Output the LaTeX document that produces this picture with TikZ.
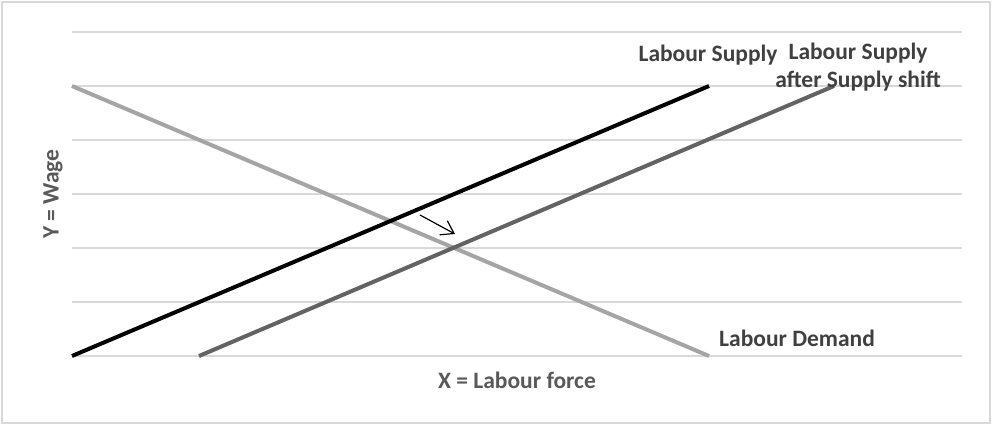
\documentclass[tikz,border=0pt]{standalone}
\usepackage{fontspec}
\setmainfont{Carlito}
\usetikzlibrary{arrows.meta}
\definecolor{gridc}{HTML}{D9D9D9}
\definecolor{demandc}{HTML}{A5A5A5}
\definecolor{shiftc}{HTML}{636363}
\definecolor{labelc}{HTML}{404040}
\definecolor{axisc}{HTML}{595959}
\tikzset{
  gridline/.style={draw=gridc, line width=1.8pt},
  series/.style={line width=4pt},
  lbl/.style={text=labelc, font=\fontsize{23.5}{28}\selectfont\bfseries, inner sep=0pt, align=center},
  axtitle/.style={text=axisc, font=\fontsize{23.5}{28}\selectfont\bfseries, inner sep=0pt},
}
\begin{document}
\begin{tikzpicture}[x=1pt,y=-1pt]
\useasboundingbox (0,0) rectangle (992,425);
\fill[white] (0,0) rectangle (992,425);
\draw[draw=gridc, line width=2pt] (2,2) rectangle (990,423);
\foreach \yy in {32,86,140,194,248,302,356} {
  \draw[gridline] (72,\yy) -- (962,\yy);
}
\coordinate (d1) at (72,86);
\coordinate (d2) at (709,356);
\coordinate (s1) at (72,356);
\coordinate (s2) at (709,86);
\coordinate (t1) at (199,356);
\coordinate (t2) at (834,86);
\coordinate (a1) at (420,215);
\coordinate (a2) at (455,234);
\draw[series, demandc] (d1) -- (d2);
\draw[series, black] (s1) -- (s2);
\draw[series, shiftc] (t1) -- (t2);
\draw[line width=1.2pt, -{Straight Barb[length=12pt,width=16pt]}] (a1) -- (a2);
\node[lbl] (ls) at (708,55) {Labour Supply};
\node[lbl] (lss) at (858,67) {Labour Supply\\after Supply shift};
\node[lbl, anchor=west] (ld) at (719,338) {Labour Demand};
\node[axtitle, rotate=90] (yt) at (53,194) {Y = Wage};
\node[axtitle] (xt) at (517,380) {X = Labour force};
\end{tikzpicture}
\end{document}
